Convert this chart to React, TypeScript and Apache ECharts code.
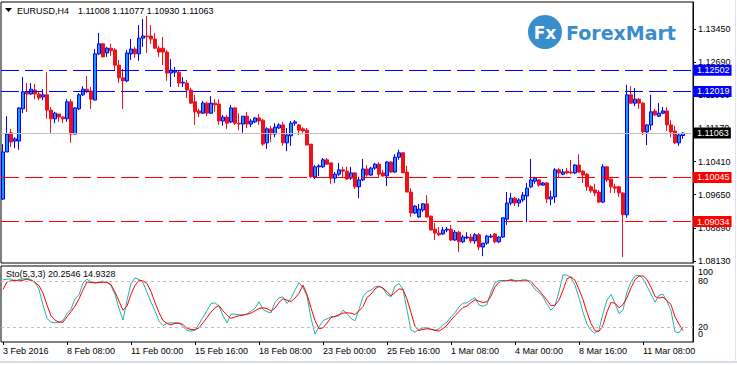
import React, { useEffect, useRef } from 'react';
import * as echarts from 'echarts';

const symbolName = 'EURUSD,H4';

const open = [
  1.0955, 1.1063, 1.1107, 1.1088, 1.1088, 1.1162, 1.1201, 1.1196, 1.1205, 1.1196,
  1.1189, 1.1194, 1.1159, 1.1139, 1.1150, 1.1143, 1.1139, 1.1178, 1.1104, 1.1162,
  1.1194, 1.1207, 1.1203, 1.1182, 1.1288, 1.1311, 1.1290, 1.1301, 1.1297, 1.1262,
  1.1233, 1.1226, 1.1288, 1.1299, 1.1288, 1.1324, 1.1329, 1.1329, 1.1322, 1.1301,
  1.1301, 1.1292, 1.1244, 1.1246, 1.1246, 1.1221, 1.1221, 1.1205, 1.1178, 1.1157,
  1.1152, 1.1175, 1.1152, 1.1175, 1.1173, 1.1134, 1.1143, 1.1132, 1.1164, 1.1129,
  1.1127, 1.1145, 1.1127, 1.1132, 1.1141, 1.1136, 1.1084, 1.1116, 1.1104, 1.1118,
  1.1125, 1.1084, 1.1100, 1.1129, 1.1125, 1.1116, 1.1113, 1.1081, 1.1006, 1.1029,
  1.1029, 1.1045, 1.1038, 1.1003, 1.1012, 1.1022, 1.1019, 1.1003, 1.1015, 1.0983,
  1.0999, 1.1024, 1.1010, 1.1026, 1.1035, 1.1015, 1.1008, 1.1040, 1.1017, 1.1051,
  1.1061, 1.1017, 1.0971, 1.0923, 1.0914, 1.0930, 1.0944, 1.0916, 1.0886, 1.0877,
  1.0875, 1.0884, 1.0886, 1.0861, 1.0879, 1.0857, 1.0866, 1.0868, 1.0859, 1.0873,
  1.0845, 1.0854, 1.0868, 1.0875, 1.0857, 1.0868, 1.0909, 1.0946, 1.0957, 1.0946,
  1.0953, 1.0962, 1.0983, 1.0996, 1.0999, 1.0987, 1.0992, 1.0955, 1.0960, 1.1022,
  1.1012, 1.1019, 1.1017, 1.1015, 1.1033, 1.1019, 1.1012, 1.0983, 1.0976, 1.0971,
  1.0948, 1.1029, 1.1001, 1.0983, 1.0983, 1.0969, 1.0919, 1.1194, 1.1175, 1.1184,
  1.1175, 1.1109, 1.1125, 1.1157, 1.1145, 1.1152, 1.1157, 1.1125, 1.1111, 1.1084,
  1.11008,
];
const high = [
  1.1081, 1.1145, 1.1116, 1.1097, 1.1166, 1.1235, 1.1221, 1.1221, 1.1219, 1.1201,
  1.1207, 1.1246, 1.1166, 1.1155, 1.1150, 1.1145, 1.1184, 1.1184, 1.1166, 1.1198,
  1.1214, 1.1237, 1.1212, 1.1299, 1.1336, 1.1313, 1.1304, 1.1311, 1.1301, 1.1274,
  1.1253, 1.1297, 1.1322, 1.1304, 1.1354, 1.1368, 1.1375, 1.1354, 1.1336, 1.1306,
  1.1327, 1.1297, 1.1276, 1.1258, 1.1251, 1.1235, 1.1228, 1.1210, 1.1194, 1.1162,
  1.1180, 1.1178, 1.1191, 1.1184, 1.1184, 1.1148, 1.1148, 1.1171, 1.1166, 1.1152,
  1.1145, 1.1155, 1.1139, 1.1143, 1.1150, 1.1139, 1.1120, 1.1123, 1.1129, 1.1129,
  1.1132, 1.1118, 1.1134, 1.1136, 1.1127, 1.1120, 1.1118, 1.1081, 1.1033, 1.1035,
  1.1049, 1.1049, 1.1038, 1.1017, 1.1038, 1.1029, 1.1029, 1.1029, 1.1017, 1.1006,
  1.1047, 1.1033, 1.1029, 1.1038, 1.1040, 1.1022, 1.1042, 1.1042, 1.1058, 1.1068,
  1.1063, 1.1031, 1.0980, 1.0941, 1.0944, 1.0946, 1.0964, 1.0916, 1.0900, 1.0891,
  1.0891, 1.0891, 1.0896, 1.0884, 1.0882, 1.0873, 1.0879, 1.0875, 1.0877, 1.0877,
  1.0854, 1.0873, 1.0875, 1.0877, 1.0870, 1.0912, 1.0971, 1.0969, 1.0960, 1.0957,
  1.0971, 1.0992, 1.1047, 1.1006, 1.1001, 1.0994, 1.0994, 1.0974, 1.1026, 1.1026,
  1.1024, 1.1026, 1.1045, 1.1035, 1.1058, 1.1022, 1.1015, 1.0987, 1.0990, 1.0976,
  1.1035, 1.1031, 1.1003, 1.0990, 1.0985, 1.0971, 1.1217, 1.1214, 1.1210, 1.1187,
  1.1178, 1.1127, 1.1194, 1.1162, 1.1175, 1.1166, 1.1166, 1.1136, 1.1123, 1.1107,
  1.11077,
];
const low = [
  1.0953, 1.1063, 1.1074, 1.1072, 1.1068, 1.1152, 1.1155, 1.1194, 1.1184, 1.1182,
  1.1182, 1.1139, 1.1107, 1.1129, 1.1132, 1.1129, 1.1132, 1.1084, 1.1104, 1.1159,
  1.1191, 1.1198, 1.1162, 1.1182, 1.1285, 1.1281, 1.1281, 1.1283, 1.1251, 1.1221,
  1.1162, 1.1223, 1.1274, 1.1279, 1.1272, 1.1304, 1.1290, 1.1311, 1.1299, 1.1281,
  1.1262, 1.1226, 1.1212, 1.1235, 1.1212, 1.1212, 1.1187, 1.1173, 1.1125, 1.1143,
  1.1150, 1.1145, 1.1150, 1.1155, 1.1125, 1.1123, 1.1116, 1.1129, 1.1125, 1.1113,
  1.1107, 1.1118, 1.1120, 1.1129, 1.1125, 1.1077, 1.1070, 1.1086, 1.1097, 1.1116,
  1.1077, 1.1065, 1.1077, 1.1123, 1.1102, 1.1107, 1.1079, 1.1003, 1.1001, 1.1008,
  1.1026, 1.1033, 1.0990, 1.0992, 1.1008, 1.1006, 1.0999, 1.0999, 1.0978, 1.0957,
  1.0996, 1.1006, 1.1008, 1.1022, 1.1006, 1.1006, 1.0985, 1.1015, 1.1015, 1.1045,
  1.1015, 1.0971, 1.0914, 1.0921, 1.0912, 1.0925, 1.0912, 1.0884, 1.0861, 1.0870,
  1.0873, 1.0879, 1.0859, 1.0859, 1.0834, 1.0854, 1.0863, 1.0854, 1.0852, 1.0838,
  1.0824, 1.0850, 1.0866, 1.0854, 1.0854, 1.0866, 1.0896, 1.0941, 1.0939, 1.0937,
  1.0948, 1.0902, 1.0980, 1.0990, 1.0983, 1.0985, 1.0946, 1.0941, 1.0946, 1.1003,
  1.1010, 1.1012, 1.1012, 1.1012, 1.1015, 1.0992, 1.0974, 1.0969, 1.0962, 1.0946,
  1.0946, 1.0994, 1.0969, 1.0969, 1.0960, 1.0822, 1.0912, 1.1173, 1.1168, 1.1162,
  1.1102, 1.1079, 1.1113, 1.1145, 1.1143, 1.1150, 1.1111, 1.1097, 1.1081, 1.1077,
  1.10930,
];
const close = [
  1.1063, 1.1104, 1.1086, 1.1093, 1.1164, 1.1201, 1.1196, 1.1207, 1.1196, 1.1187,
  1.1194, 1.1159, 1.1139, 1.1152, 1.1143, 1.1139, 1.1178, 1.1104, 1.1164, 1.1194,
  1.1207, 1.1201, 1.1184, 1.1288, 1.1311, 1.1281, 1.1301, 1.1295, 1.1262, 1.1233,
  1.1226, 1.1290, 1.1299, 1.1288, 1.1324, 1.1329, 1.1327, 1.1322, 1.1301, 1.1292,
  1.1292, 1.1244, 1.1251, 1.1249, 1.1221, 1.1223, 1.1205, 1.1175, 1.1155, 1.1152,
  1.1175, 1.1152, 1.1175, 1.1171, 1.1134, 1.1143, 1.1129, 1.1164, 1.1129, 1.1127,
  1.1145, 1.1127, 1.1134, 1.1141, 1.1134, 1.1081, 1.1116, 1.1104, 1.1120, 1.1125,
  1.1084, 1.1102, 1.1129, 1.1132, 1.1113, 1.1111, 1.1079, 1.1006, 1.1029, 1.1031,
  1.1045, 1.1035, 1.1003, 1.1012, 1.1022, 1.1019, 1.1001, 1.1015, 1.0983, 1.0999,
  1.1024, 1.1010, 1.1026, 1.1035, 1.1012, 1.1008, 1.1040, 1.1017, 1.1051, 1.1061,
  1.1015, 1.0971, 1.0923, 1.0939, 1.0932, 1.0944, 1.0914, 1.0884, 1.0877, 1.0873,
  1.0884, 1.0886, 1.0861, 1.0879, 1.0857, 1.0868, 1.0868, 1.0859, 1.0873, 1.0845,
  1.0854, 1.0870, 1.0870, 1.0857, 1.0868, 1.0912, 1.0946, 1.0957, 1.0946, 1.0953,
  1.0964, 1.0980, 1.0999, 1.1003, 1.0987, 1.0992, 1.0955, 1.0960, 1.1022, 1.1015,
  1.1017, 1.1015, 1.1015, 1.1033, 1.1017, 1.1010, 1.0983, 1.0974, 1.0969, 1.0948,
  1.1029, 1.0999, 1.0983, 1.0980, 1.0969, 1.0919, 1.1194, 1.1175, 1.1184, 1.1175,
  1.1109, 1.1125, 1.1155, 1.1148, 1.1152, 1.1157, 1.1125, 1.1109, 1.1084, 1.1102,
  1.11063,
];

const stochMain = [
  81.8, 82.6, 83.1, 80.4, 82.2, 83.1, 83.5, 82.2, 78.7, 69.5,
  48.5, 31.0, 26.1, 25.3, 26.1, 28.3, 37.5, 43.2, 56.8, 62.0,
  77.8, 82.6, 79.1, 77.8, 78.7, 80.0, 79.1, 73.9, 62.5, 44.1,
  28.8, 55.0, 76.9, 84.4, 82.2, 78.3, 65.1, 52.4, 41.0, 27.4,
  21.8, 24.4, 25.3, 25.3, 25.3, 20.4, 15.2, 14.3, 15.6, 23.5,
  32.7, 41.0, 50.7, 51.5, 47.2, 34.5, 25.3, 36.6, 36.6, 35.8,
  35.8, 36.6, 40.6, 44.5, 52.9, 42.8, 39.7, 38.4, 52.0, 58.1,
  59.4, 50.7, 57.7, 68.2, 78.3, 71.7, 60.3, 31.4, 10.4, 20.0,
  27.9, 30.5, 33.1, 33.6, 34.5, 41.9, 37.5, 31.0, 27.9, 42.8,
  59.4, 66.0, 68.2, 72.6, 73.4, 70.8, 62.5, 59.4, 73.4, 76.9,
  69.1, 41.9, 15.6, 13.0, 16.5, 18.7, 18.7, 16.5, 15.2, 17.4,
  22.6, 26.1, 33.1, 38.4, 46.3, 51.1, 51.5, 55.5, 58.5, 48.5,
  47.2, 49.3, 66.0, 77.8, 80.9, 80.9, 80.4, 82.6, 80.9, 80.4,
  81.8, 81.8, 76.5, 69.1, 65.1, 59.4, 49.8, 41.9, 47.6, 66.0,
  88.3, 87.9, 84.8, 74.8, 58.1, 39.3, 23.5, 15.6, 11.2, 16.5,
  37.5, 55.0, 62.5, 50.7, 37.5, 41.9, 66.0, 79.1, 87.0, 87.9,
  83.5, 73.4, 62.9, 52.4, 61.6, 62.9, 53.7, 41.0, 13.4, 12.1,
  20.2546,
];
const stochSignal = [
  69.1, 79.1, 80.4, 81.3, 80.4, 81.3, 82.6, 80.9, 78.3, 74.3,
  64.2, 48.5, 34.5, 28.8, 26.1, 26.1, 33.1, 40.1, 47.2, 56.8,
  68.6, 79.1, 78.3, 77.8, 78.3, 78.7, 78.3, 75.6, 65.6, 53.7,
  41.9, 47.2, 62.9, 74.3, 81.3, 80.4, 76.9, 66.4, 52.0, 38.8,
  28.3, 24.4, 22.6, 24.4, 24.8, 23.1, 17.8, 16.5, 16.1, 18.7,
  25.3, 32.3, 39.3, 45.0, 48.0, 41.0, 35.3, 31.0, 33.1, 34.5,
  35.3, 36.6, 38.0, 41.0, 44.1, 45.0, 44.1, 40.6, 44.5, 52.0,
  56.8, 55.0, 53.3, 57.7, 64.2, 74.8, 62.5, 45.0, 28.3, 17.4,
  18.7, 24.8, 32.3, 33.6, 35.8, 38.0, 38.4, 38.0, 36.2, 41.0,
  46.7, 58.5, 62.9, 69.9, 73.0, 70.8, 66.4, 60.7, 65.1, 69.9,
  69.1, 56.4, 38.8, 20.4, 15.2, 16.5, 17.4, 16.9, 15.6, 14.3,
  17.8, 22.2, 28.8, 34.5, 40.1, 45.4, 47.2, 52.0, 55.5, 53.7,
  52.0, 52.9, 60.3, 72.6, 78.7, 80.4, 80.4, 81.3, 80.0, 80.4,
  80.4, 80.4, 80.0, 73.4, 68.2, 61.6, 55.0, 47.6, 48.5, 55.0,
  68.2, 83.1, 85.7, 81.3, 69.1, 55.9, 38.8, 24.4, 14.7, 13.9,
  22.2, 39.7, 52.0, 51.1, 45.0, 49.3, 58.5, 71.2, 82.2, 86.6,
  87.0, 82.2, 72.1, 59.9, 57.7, 59.0, 54.2, 49.3, 33.1, 23.5,
  14.9328,
];

const tickLabels = [
  '3 Feb 2016', '8 Feb 08:00', '11 Feb 00:00', '15 Feb 16:00', '18 Feb 08:00', '23 Feb 00:00',
  '25 Feb 16:00', '1 Mar 08:00', '4 Mar 00:00', '8 Mar 16:00', '11 Mar 08:00',
];
const priceTicks = [1.0813, 1.0889, 1.0965, 1.1041, 1.1117, 1.1193, 1.1269, 1.1345];
const levelPrices = [1.12502, 1.12019, 1.10045, 1.09034];
const levelColors = ['#0000ff', '#0000ff', '#ff0000', '#ff0000'];
const stochLevels = [20, 80];
const stochEdgeTicks = [0, 100];
const barsPerTick = 16;
const slotCount = 173;

export default function App() {
  const ref = useRef<HTMLDivElement>(null);
  useEffect(() => {
    document.body.style.margin = '0';
    const chart = echarts.init(ref.current!, null, { renderer: 'svg' });
    const font = "'Liberation Sans', Arial, sans-serif";
    const categories = Array.from({ length: slotCount }, (_, i) => String(i));
    const candles = open.map((o, i) => [o, close[i], low[i], high[i]]);
    const last = close.length - 1;
    const isTick = (i: number) => i % barsPerTick === 0 && i / barsPerTick < tickLabels.length;
    const logoBlue = '#3a8dcc';

    chart.setOption({
      animation: false,
      backgroundColor: '#ffffff',
      textStyle: { fontFamily: font },
      grid: [
        { left: 1, top: 2, width: 692, height: 261, show: true, borderColor: '#000', borderWidth: 1, backgroundColor: 'transparent', outerBoundsMode: 'none' },
        { left: 1, top: 266, width: 692, height: 76, show: true, borderColor: '#000', borderWidth: 1, backgroundColor: 'transparent', outerBoundsMode: 'none' },
      ],
      xAxis: [
        { type: 'category', gridIndex: 0, data: categories, show: false, boundaryGap: true },
        {
          type: 'category', gridIndex: 1, data: categories, boundaryGap: true,
          axisLine: { show: false },
          axisTick: { show: true, interval: (i: number) => isTick(i), alignWithLabel: true, length: 3, lineStyle: { color: '#000' } },
          axisLabel: {
            interval: (i: number) => isTick(i),
            formatter: (_v: string, i: number) => tickLabels[i / barsPerTick] ?? '',
            align: 'left', margin: 4, fontSize: 9, color: '#000', fontFamily: font,
          },
          splitLine: { show: false },
        },
      ],
      yAxis: [
        {
          type: 'value', gridIndex: 0, position: 'right', min: 1.08084, max: 1.14069,
          axisLine: { show: true, lineStyle: { color: '#000' } },
          axisTick: { show: true, length: 3, customValues: priceTicks, lineStyle: { color: '#000' } },
          axisLabel: { customValues: priceTicks, formatter: (v: number) => v.toFixed(5), fontSize: 9, color: '#000', margin: 5, fontFamily: font },
          splitLine: { show: false },
        },
        {
          type: 'value', gridIndex: 1, position: 'right', min: 0, max: 100,
          axisLine: { show: true, lineStyle: { color: '#000' } },
          axisTick: { show: false },
          axisLabel: { customValues: stochLevels, fontSize: 9, color: '#000', margin: 5, fontFamily: font },
          splitLine: { show: false },
        },
        {
          type: 'value', gridIndex: 1, position: 'right', min: 0, max: 100,
          axisLine: { show: false }, axisTick: { show: false }, splitLine: { show: false },
          axisLabel: {
            customValues: stochEdgeTicks, fontSize: 9, color: '#000', margin: 5, fontFamily: font,
            showMinLabel: true, showMaxLabel: true,
            formatter: (v: number) => (v === 100 ? '{t|100}' : '{b|0}'),
            rich: {
              t: { fontSize: 9, padding: [12, 0, 0, 0], fontFamily: font, color: '#000' },
              b: { fontSize: 9, padding: [0, 0, 16, 0], fontFamily: font, color: '#000' },
            },
          },
        },
      ],
      series: [
        {
          type: 'candlestick', xAxisIndex: 0, yAxisIndex: 0, data: candles, barWidth: 3,
          itemStyle: { color: '#1e90ff', color0: '#f0101a', borderColor: '#0000ff', borderColor0: '#f0101a', borderWidth: 1 },
          markLine: {
            silent: true, symbol: ['none', 'none'], animation: false, precision: 5,
            label: {
              show: true, position: 'end', distance: 0, color: '#fff', fontSize: 9, fontFamily: font,
              padding: [1, 2, 0, 4], lineHeight: 10,
              formatter: (p: any) => Number(p.value).toFixed(5),
            },
            data: [
              { yAxis: close[last], lineStyle: { color: '#c0c0c0', type: 'solid', width: 1 }, label: { backgroundColor: '#000' } },
              ...levelPrices.map((p, i) => ({
                yAxis: p,
                lineStyle: { color: levelColors[i], type: [18, 6], width: 1 },
                label: { backgroundColor: levelColors[i] },
              })),
            ],
          },
        },
        {
          type: 'line', xAxisIndex: 1, yAxisIndex: 1, data: stochMain, symbol: 'none',
          lineStyle: { color: '#20b2aa', width: 1 }, itemStyle: { color: '#20b2aa' },
          markLine: {
            silent: true, symbol: ['none', 'none'], animation: false, label: { show: false },
            lineStyle: { color: '#c0c0c0', type: [3, 3], width: 1 },
            data: stochLevels.map((v) => ({ yAxis: v })),
          },
          z: 2,
        },
        {
          type: 'line', xAxisIndex: 1, yAxisIndex: 1, data: stochSignal, symbol: 'none',
          lineStyle: { color: '#ff0000', width: 1 }, itemStyle: { color: '#ff0000' }, z: 3,
        },
      ],
      graphic: [
        { type: 'polygon', shape: { points: [[5, 8], [12, 8], [8.5, 12]] }, style: { fill: '#000' } },
        { type: 'text', x: 17, y: 11, style: { text: symbolName, fontSize: 9, fontFamily: font, fill: '#000', verticalAlign: 'middle' } },
        {
          type: 'text', x: 78, y: 11,
          style: {
            text: [open[last], high[last], low[last], close[last]].map((v) => v.toFixed(5)).join(' '),
            fontSize: 9, fontFamily: font, fill: '#000', verticalAlign: 'middle',
          },
        },
        {
          type: 'text', x: 6, y: 274,
          style: {
            text: `Sto(5,3,3) ${stochMain[last].toFixed(4)} ${stochSignal[last].toFixed(4)}`,
            fontSize: 9, fontFamily: font, fill: '#000', verticalAlign: 'middle',
          },
        },
        { type: 'circle', shape: { cx: 545, cy: 32, r: 17 }, style: { fill: logoBlue } },
        {
          type: 'text', x: 545, y: 33,
          style: { text: 'Fx', fontSize: 17, fontWeight: 'bold', fontFamily: "'DejaVu Sans', sans-serif", fill: '#fff', align: 'center', verticalAlign: 'middle' },
        },
        {
          type: 'text', x: 566, y: 33,
          style: { text: 'ForexMart', fontSize: 19, fontWeight: 'bold', fontFamily: "'DejaVu Sans', sans-serif", fill: logoBlue, verticalAlign: 'middle' },
        },
        { type: 'rect', shape: { x: 0, y: 361, width: 737, height: 2 }, style: { fill: '#d5deeb' } },
        { type: 'rect', shape: { x: 735, y: 0, width: 1, height: 362 }, style: { fill: '#dfe4ec' } },
      ],
    });
    return () => chart.dispose();
  }, []);
  return <div ref={ref} style={{ width: 737, height: 365, position: 'absolute', left: 0, top: 0, background: '#fff' }} />;
}
